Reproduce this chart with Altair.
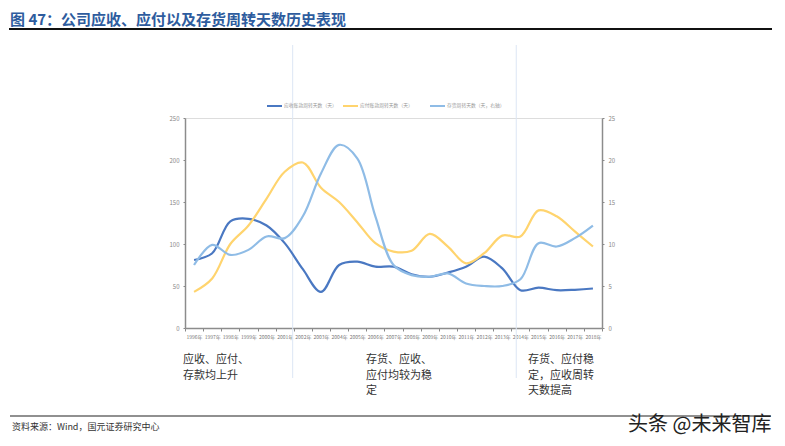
import altair as alt
import pandas as pd

years = ["1996年", "1997年", "1998年", "1999年", "2000年", "2001年", "2002年", "2003年",
         "2004年", "2005年", "2006年", "2007年", "2008年", "2009年", "2010年", "2011年",
         "2012年", "2013年", "2014年", "2015年", "2016年", "2017年", "2018年"]
receivable_days = [81, 89, 127, 130, 122, 101, 70, 43, 75, 79, 73, 73, 64, 61, 66, 73, 85, 71, 45, 48, 45, 45.5, 47]
payable_days = [43, 59, 100, 122, 154, 186, 197, 167, 150, 126, 101, 91, 92, 112, 97, 77, 89, 110, 109, 140, 133, 115, 97]
inventory_days = [7.5, 9.9, 8.7, 9.3, 10.9, 10.7, 13.3, 18.4, 21.8, 20.2, 13.3, 7.5, 6.3, 6.1, 6.5, 5.3, 5.0, 5.0, 5.8, 10.1, 9.7, 10.7, 12.2]

names = ["应收账款周转天数（天）", "应付账款周转天数（天）", "存货周转天数（天，右轴）"]
colors = ["#4A78C2", "#FFD46E", "#8FBCE6"]
left_ticks = [0, 50, 100, 150, 200, 250]
right_ticks = [0, 5, 10, 15, 20, 25]

title_text = "图 47：公司应收、应付以及存货周转天数历史表现"
source_text = "资料来源：Wind，国元证券研究中心"
note1 = "应收、应付、\n存款均上升"
note2 = "存货、应收、\n应付均较为稳\n定"
note3 = "存货、应付稳\n定，应收周转\n天数提高"
watermark = "头条 @未来智库"

W, H = 417, 210
FONT = "Noto Sans CJK SC"

left_df = pd.DataFrame({
    "year": years * 2,
    "value": receivable_days + payable_days,
    "series": [names[0]] * len(years) + [names[1]] * len(years),
})
right_df = pd.DataFrame({"year": years, "value": inventory_days, "series": names[2]})
one = pd.DataFrame({"a": [0]})

xscale = alt.Scale(type="band", domain=years, paddingInner=0, paddingOuter=0)
xaxis = alt.Axis(title=None, labelAngle=0, labelFontSize=5, labelColor="#777", tickBand="extent",
                 tickSize=3, tickColor="#888", domainColor="#8c8c8c", domainWidth=1.5,
                 labelPadding=3, grid=False)
cscale = alt.Scale(domain=names, range=colors)

left_lines = alt.Chart(left_df).mark_line(strokeWidth=2.2, interpolate="catmull-rom").encode(
    x=alt.X("year:O", scale=xscale, axis=xaxis, sort=years),
    y=alt.Y("value:Q", scale=alt.Scale(domain=[0, 250]),
            axis=alt.Axis(orient="left", values=left_ticks, title=None, labelFontSize=6, labelColor="#888",
                          tickSize=2, tickColor="#888", domainColor="#8c8c8c", domainWidth=1.5,
                          grid=False, labelPadding=4)),
    color=alt.Color("series:N", scale=cscale, legend=None),
)

right_line = alt.Chart(right_df).mark_line(strokeWidth=2.2, interpolate="catmull-rom").encode(
    x=alt.X("year:O", scale=xscale, axis=xaxis, sort=years),
    y=alt.Y("value:Q", scale=alt.Scale(domain=[0, 25]),
            axis=alt.Axis(orient="right", values=right_ticks, title=None, labelFontSize=6, labelColor="#888",
                          tickSize=2, tickColor="#888", domainColor="#8c8c8c", domainWidth=1.5,
                          grid=False, labelPadding=4)),
    color=alt.Color("series:N", scale=cscale, legend=None),
)

div1 = alt.Chart(pd.DataFrame({"year": [years[5]]})).mark_rule(color="#DCE6F4", strokeWidth=1).encode(
    x=alt.X("year:O", scale=xscale, axis=xaxis, bandPosition=0.94, sort=years),
    y=alt.value(-73), y2=alt.value(260))
div2 = alt.Chart(pd.DataFrame({"year": [years[18]]})).mark_rule(color="#DCE6F4", strokeWidth=1).encode(
    x=alt.X("year:O", scale=xscale, axis=xaxis, bandPosition=0.27, sort=years),
    y=alt.value(-73), y2=alt.value(260))

layers = [div1, div2, left_lines, right_line]

# manual legend
leg_x = [82, 158, 245]
for i in range(3):
    layers.append(alt.Chart(one).mark_rule(color=colors[i], strokeWidth=2).encode(
        x=alt.value(leg_x[i]), x2=alt.value(leg_x[i] + 15), y=alt.value(-12)))
    layers.append(alt.Chart(one).mark_text(text=names[i], fontSize=4.8, color="#999", align="left",
                                           baseline="middle", font=FONT).encode(
        x=alt.value(leg_x[i] + 17), y=alt.value(-12)))

# title and frame lines
layers.append(alt.Chart(one).mark_text(text=title_text, fontSize=15, fontWeight="bold", color="#2E5C9E",
                                       align="left", baseline="middle", font=FONT).encode(
    x=alt.value(-175), y=alt.value(-98)))
layers.append(alt.Chart(one).mark_rule(color="#111", strokeWidth=2).encode(
    x=alt.value(-176), x2=alt.value(590), y=alt.value(-89)))
layers.append(alt.Chart(one).mark_rule(color="#222", strokeWidth=1.2).encode(
    x=alt.value(-175), x2=alt.value(586), y=alt.value(298)))
layers.append(alt.Chart(one).mark_text(text=source_text, fontSize=9, color="#333", align="left",
                                       baseline="middle", font=FONT).encode(
    x=alt.value(-173), y=alt.value(309)))
layers.append(alt.Chart(one).mark_text(text=watermark, fontSize=20, color="#222", align="left",
                                       baseline="middle", font=FONT).encode(
    x=alt.value(443), y=alt.value(307)))

# annotations
for txt, xx in [(note1, -2), (note2, 181), (note3, 343)]:
    layers.append(alt.Chart(one).mark_text(text=txt, lineBreak="\n", lineHeight=15.5, fontSize=11,
                                           color="#333", align="left", baseline="middle", font=FONT).encode(
        x=alt.value(xx), y=alt.value(242)))

chart = alt.layer(*layers).resolve_scale(y="independent").properties(
    width=W, height=H,
    padding={"left": 177, "top": 110, "right": 170, "bottom": 115},
    autosize=alt.AutoSizeParams(type="none"),
).configure_view(stroke=None).configure(font=FONT, background="white")

chart.save("out.html", embed_options={"renderer": "svg", "actions": False})
